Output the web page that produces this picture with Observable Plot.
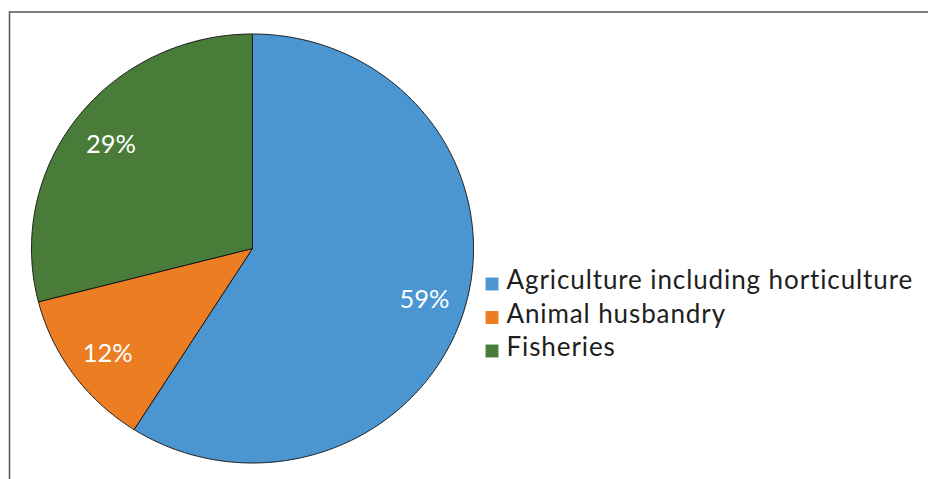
<!DOCTYPE html>
<html>
<head>
<meta charset="utf-8">
<script src="https://cdn.jsdelivr.net/npm/d3@7"></script>
<script src="https://cdn.jsdelivr.net/npm/@observablehq/plot@0.6"></script>
<style>
  html, body { margin: 0; padding: 0; background: #fff; }
  #chart { width: 928px; height: 479px; }
</style>
</head>
<body>
<div id="chart"></div>
<script>
// ---- data ----
const categories = ["Agriculture including horticulture", "Animal husbandry", "Fisheries"];
const shares = [59, 12, 29];
const shareLabels = ["59%", "12%", "29%"];
const colors = ["#4B96D0", "#ED7D22", "#497C39"];

// ---- layout ----
const W = 928, H = 479;
const cx = 252, cy = 248, rx = 221, ry = 214.5;
const labelK = 0.81;
const legendX = 491.5, legendTextX = 506, legendY0 = 280.5, legendStep = 33.5;
const font = "Lato, 'Open Sans', sans-serif";

const arcs = d3.pie().sort(null).value(d => d)(shares);

// polygon vertices for each slice, computed from the pie layout
const slicePts = [];
arcs.forEach((a, i) => {
  const name = categories[i];
  slicePts.push({name, x: cx, y: cy});
  const n = Math.max(2, Math.ceil((a.endAngle - a.startAngle) / (Math.PI / 360)));
  for (let k = 0; k <= n; k++) {
    const t = a.startAngle + (a.endAngle - a.startAngle) * k / n;
    slicePts.push({name, x: cx + rx * Math.sin(t), y: cy - ry * Math.cos(t)});
  }
  slicePts.push({name, x: cx, y: cy});
});

const labelPts = arcs.map((a, i) => {
  const m = (a.startAngle + a.endAngle) / 2;
  return {label: shareLabels[i], x: cx + labelK * rx * Math.sin(m), y: cy - labelK * ry * Math.cos(m) + 3};
});

const legendRows = categories.map((c, i) => ({name: c, y: legendY0 + i * legendStep}));

const chart = Plot.plot({
  width: W,
  height: H,
  margin: 0,
  x: {domain: [0, W], range: [0, W], axis: null},
  y: {domain: [0, H], range: [0, H], axis: null},
  color: {domain: categories, range: colors},
  style: {background: "#fff", fontFamily: font},
  marks: [
    Plot.ruleY([11.5], {x1: 9, x2: W, stroke: "#555", strokeWidth: 1.5}),
    Plot.ruleX([9], {y1: 11.5, y2: H, stroke: "#555", strokeWidth: 1.5}),
    Plot.line(slicePts, {x: "x", y: "y", z: "name", fill: "name", stroke: "#1a1a1a", strokeWidth: 1, strokeLinejoin: "round", curve: "linear"}),
    Plot.text(labelPts, {x: "x", y: "y", text: "label", fill: "white", fontSize: 25.5, fontFamily: font, textAnchor: "middle", lineAnchor: "middle"}),
    Plot.dot(legendRows, {x: () => legendX, y: d => d.y + 3, symbol: "square", r: 7.3, fill: "name", stroke: null}),
    Plot.text(legendRows, {x: () => legendTextX, y: "y", text: "name", fill: "#1e1e1e", fontSize: 26, fontFamily: font, textAnchor: "start", lineAnchor: "middle"})
  ]
});
d3.select(chart).selectAll("text")
  .filter(function() { return categories.includes(this.textContent); })
  .style("letter-spacing", "0.9px");
document.getElementById("chart").appendChild(chart);
</script>
</body>
</html>
